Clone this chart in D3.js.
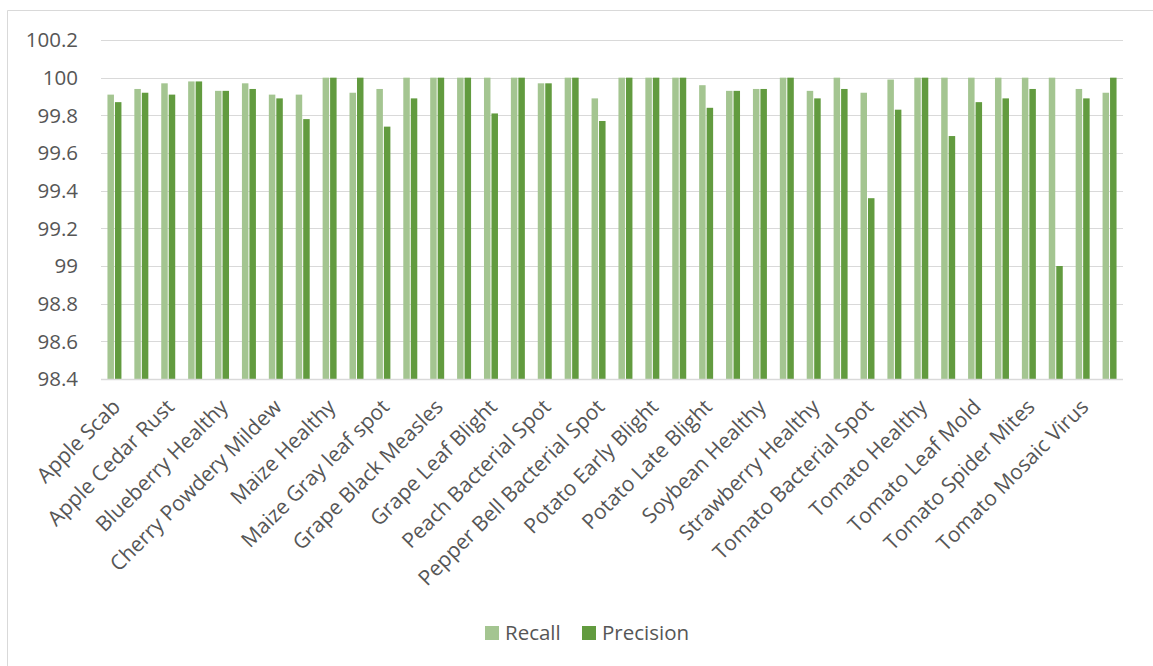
<!DOCTYPE html>
<html>
<head>
<meta charset="utf-8">
<script src="https://cdn.jsdelivr.net/npm/d3@7"></script>
<style>
  html, body { margin: 0; padding: 0; background: #fff; }
  svg { display: block; }
  text { font-family: "Open Sans", sans-serif; fill: #565656; }
</style>
</head>
<body>
<svg id="chart" width="1153" height="666"></svg>
<script>
const categories = [
  "Apple Scab", "Apple Black Rot", "Apple Cedar Rust", "Apple Healthy",
  "Blueberry Healthy", "Cherry Healthy", "Cherry Powdery Mildew", "Maize Common Rust",
  "Maize Healthy", "Maize Northern Leaf Blight", "Maize Gray leaf spot", "Grape Black Rot",
  "Grape Black Measles", "Grape Healthy", "Grape Leaf Blight", "Orange Haunglongbing",
  "Peach Bacterial Spot", "Peach Healthy", "Pepper Bell Bacterial Spot", "Pepper Bell Healthy",
  "Potato Early Blight", "Potato Healthy", "Potato Late Blight", "Raspberry Healthy",
  "Soybean Healthy", "Squash Powdery Mildew", "Strawberry Healthy", "Strawberry Leaf Scorch",
  "Tomato Bacterial Spot", "Tomato Early Blight", "Tomato Healthy", "Tomato Late Blight",
  "Tomato Leaf Mold", "Tomato Septoria Leaf Spot", "Tomato Spider Mites", "Tomato Target Spot",
  "Tomato Mosaic Virus", "Tomato Yellow Leaf Curl Virus"
];
const recall = [
  99.91, 99.94, 99.97, 99.98, 99.93, 99.97, 99.91, 99.91,
  100, 99.92, 99.94, 100, 100, 100, 100, 100,
  99.97, 100, 99.89, 100, 100, 100, 99.96, 99.93,
  99.94, 100, 99.93, 100, 99.92, 99.99, 100, 100,
  100, 100, 100, 100, 99.94, 99.92
];
const precision = [
  99.87, 99.92, 99.91, 99.98, 99.93, 99.94, 99.89, 99.78,
  100, 100, 99.74, 99.89, 100, 100, 99.81, 100,
  99.97, 100, 99.77, 100, 100, 100, 99.84, 99.93,
  99.94, 100, 99.89, 99.94, 99.36, 99.83, 100, 99.69,
  99.87, 99.89, 99.94, 99.00, 99.89, 100
];
const seriesNames = ["Recall", "Precision"];
const seriesColors = ["#a4c591", "#629b3f"];
const yTicks = [98.4, 98.6, 98.8, 99, 99.2, 99.4, 99.6, 99.8, 100, 100.2];

const svg = d3.select("#chart");

// chart border
svg.append("path")
  .attr("d", "M7.5,700 L7.5,10.5 L1160,10.5")
  .attr("fill", "none").attr("stroke", "#d9d9d9").attr("stroke-width", 1);

const plotLeft = 101, plotRight = 1123, plotTop = 40, plotBottom = 379;

const x = d3.scaleBand().domain(categories).range([plotLeft, plotRight])
  .paddingInner(0.48).paddingOuter(0.24);
const x1 = d3.scaleBand().domain(seriesNames).range([0, x.bandwidth()]).padding(0);
const y = d3.scaleLinear().domain([98.4, 100.2]).range([plotBottom, plotTop]);

// gridlines
svg.append("g").selectAll("line").data(yTicks).join("line")
  .attr("x1", plotLeft).attr("x2", plotRight)
  .attr("y1", d => Math.round(y(d)) + 0.5).attr("y2", d => Math.round(y(d)) + 0.5)
  .attr("stroke", "#d9d9d9").attr("stroke-width", 1);

// y tick labels
svg.append("g").selectAll("text").data(yTicks).join("text")
  .attr("x", 78).attr("y", d => y(d))
  .attr("dy", "0.36em")
  .attr("text-anchor", "end")
  .style("font-size", "20.5px")
  .text(d => String(+d.toFixed(1)));

// bars
const data = categories.map((c, i) => ({ c, vals: [recall[i], precision[i]] }));
const groups = svg.append("g").selectAll("g").data(data).join("g")
  .attr("transform", d => `translate(${x(d.c)},0)`);
groups.selectAll("rect").data(d => d.vals.map((v, j) => ({ s: seriesNames[j], v, j })))
  .join("rect")
  .attr("x", d => x1(d.s) + (d.j === 1 ? 0.5 : 0))
  .attr("width", x1.bandwidth() - 0.5)
  .attr("y", d => y(d.v))
  .attr("height", d => y(98.4) - y(d.v))
  .attr("fill", d => seriesColors[d.j]);

// x axis line
svg.append("line")
  .attr("x1", plotLeft).attr("x2", plotRight)
  .attr("y1", Math.round(plotBottom) + 0.5).attr("y2", Math.round(plotBottom) + 0.5)
  .attr("stroke", "#d9d9d9").attr("stroke-width", 1.5);

// category labels (every other one shown)
svg.append("g").selectAll("text")
  .data(categories.filter((c, i) => i % 2 === 0)).join("text")
  .attr("transform", d => `translate(${x(d) + x.bandwidth() / 2 + 2},${plotBottom + 24}) rotate(-45)`)
  .attr("text-anchor", "end")
  .attr("dy", "0.35em")
  .style("font-size", "21px")
  .text(d => d);

// legend
const legend = svg.append("g");
const legendItems = [{ name: "Recall", x: 485 }, { name: "Precision", x: 582 }];
legendItems.forEach((it, i) => {
  legend.append("rect").attr("x", it.x).attr("y", 626).attr("width", 14).attr("height", 14)
    .attr("fill", seriesColors[i]);
  legend.append("text").attr("x", it.x + 20).attr("y", 633).attr("dy", "0.36em")
    .style("font-size", "20.5px").text(it.name);
});
</script>
</body>
</html>
